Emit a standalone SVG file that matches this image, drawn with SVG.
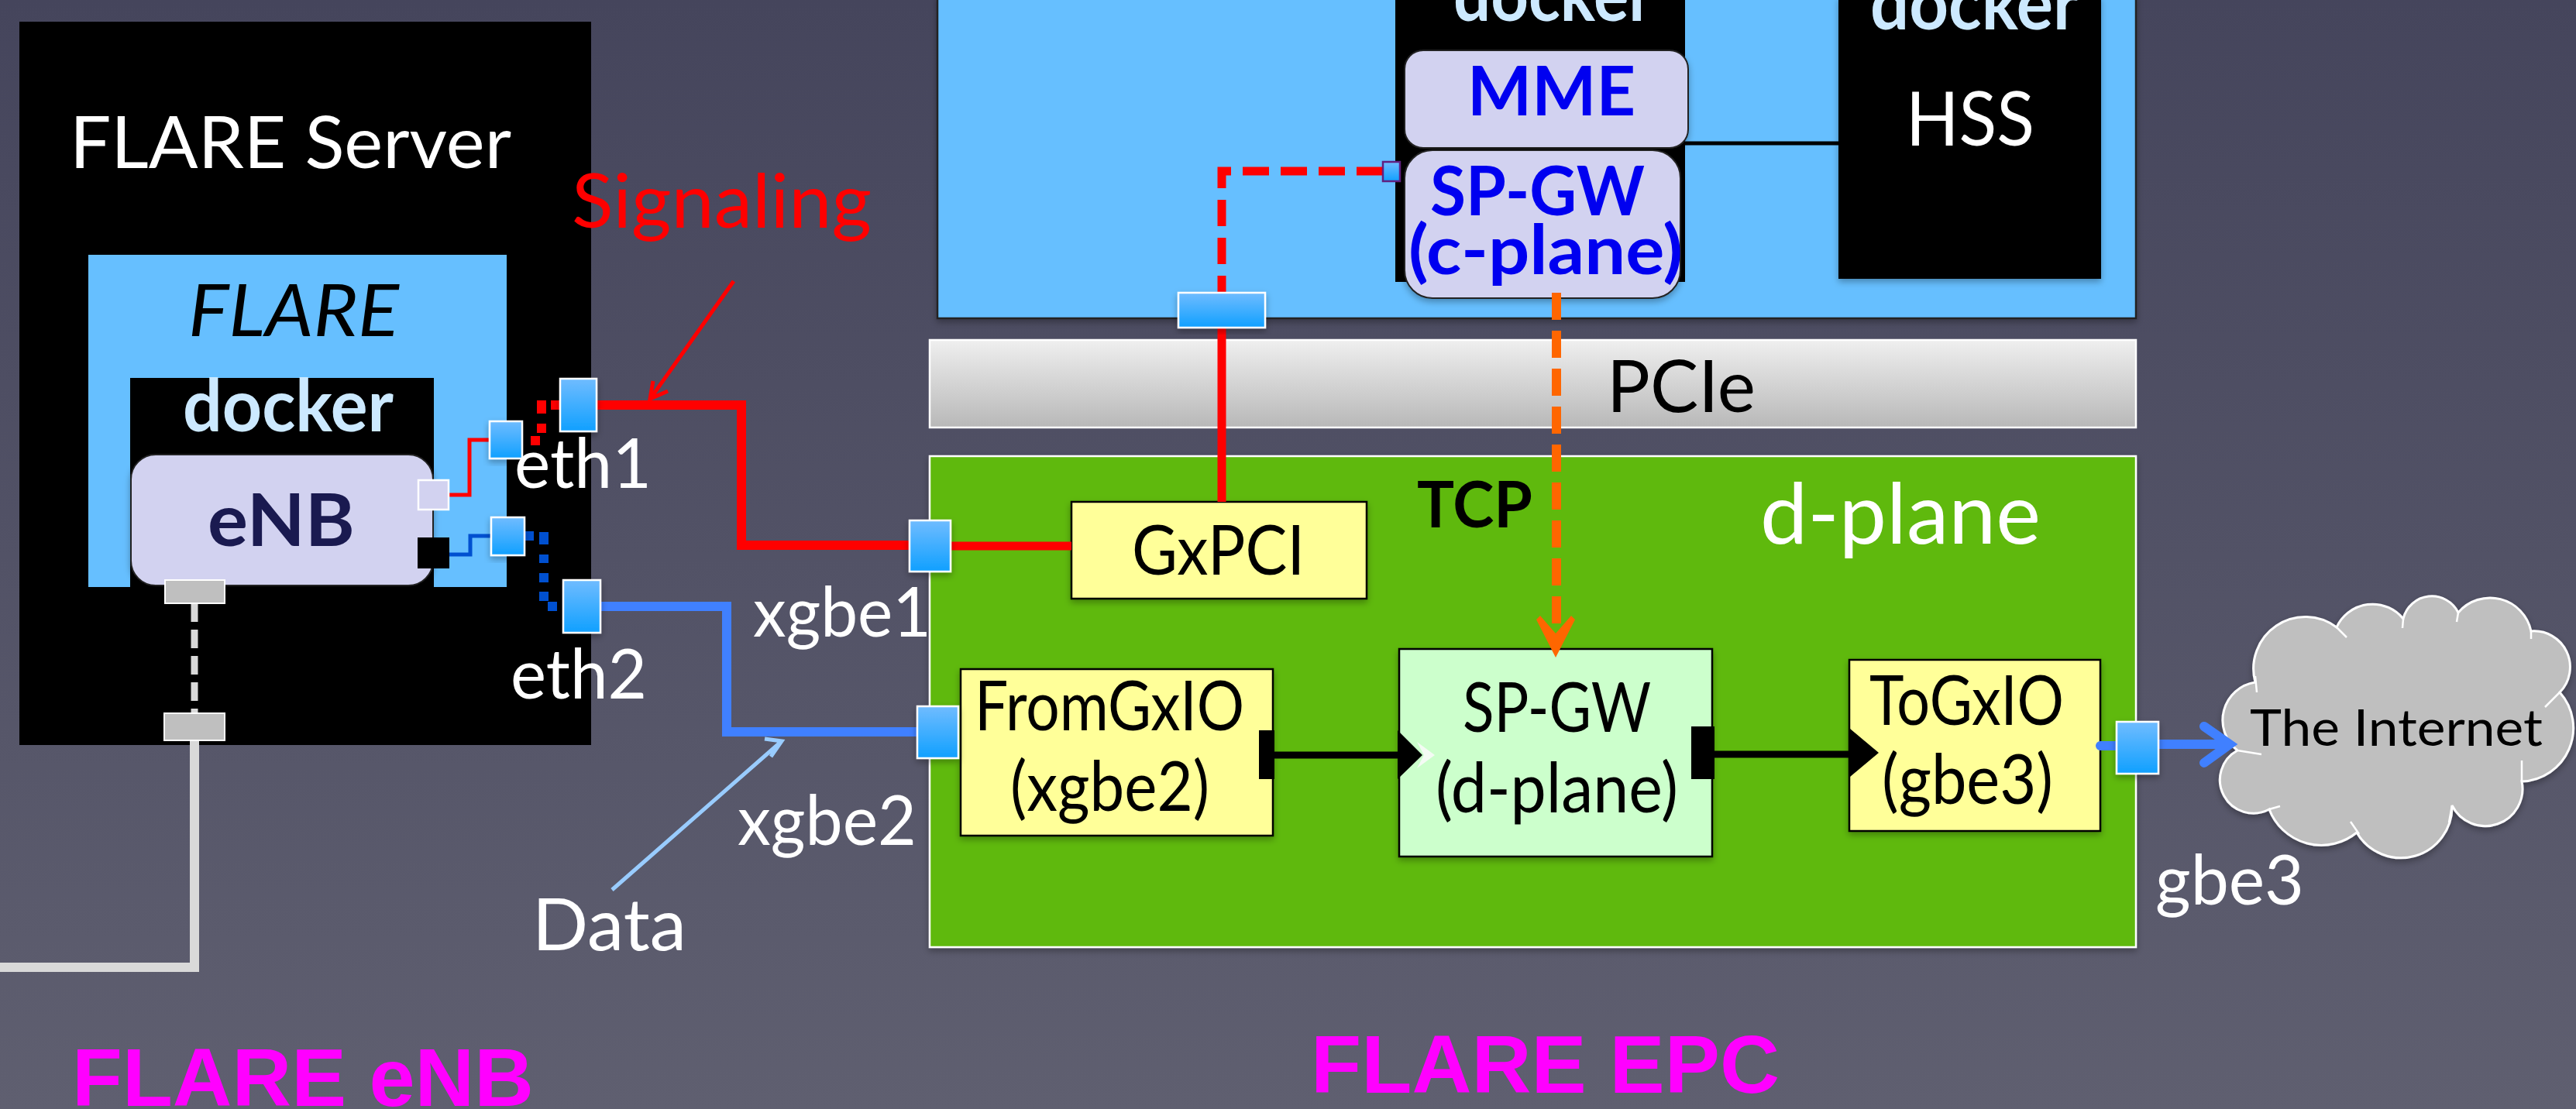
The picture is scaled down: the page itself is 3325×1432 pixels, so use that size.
<svg xmlns="http://www.w3.org/2000/svg" width="3325" height="1432" viewBox="0 0 3325 1432">
<defs>
<linearGradient id="bg" x1="0" y1="0" x2="0" y2="1"><stop offset="0" stop-color="#45455c"/><stop offset="1" stop-color="#5f5f70"/></linearGradient>
<linearGradient id="portg" x1="0" y1="0" x2="0" y2="1"><stop offset="0" stop-color="#70bcff"/><stop offset="1" stop-color="#10a0ff"/></linearGradient>
<linearGradient id="pcie" x1="0" y1="0" x2="0" y2="1"><stop offset="0" stop-color="#efefef"/><stop offset="1" stop-color="#b8b8b8"/></linearGradient>
<filter id="sh" x="-20%" y="-20%" width="140%" height="140%"><feDropShadow dx="0" dy="4" stdDeviation="4" flood-color="#000" flood-opacity="0.3"/></filter>
</defs>
<style>
text{font-family:Lato,"Liberation Sans",sans-serif;fill:#fff;font-size:92px}
.k{fill:#000}
.dk{font-weight:700;fill:#cce9ff;font-size:94px}
.bl{font-weight:700;fill:#0000f0;font-size:88px}
.mg{font-family:"Liberation Sans",Arial,sans-serif;font-weight:700;fill:#ff00ff;font-size:106px}
.port{fill:url(#portg);stroke:#fff;stroke-width:2.5;filter:url(#sh)}
.gp{fill:#bfbfbf;stroke:#fff;stroke-width:2}
.blk{fill:#000}
.lav{fill:#d2d2f0;stroke:#222;stroke-width:2;filter:url(#sh)}
.yel{fill:#ffff99;stroke:#000;stroke-width:2.5;filter:url(#sh)}
.ln{fill:none}
.m{font-size:90px}
</style>
<rect width="3325" height="1432" fill="url(#bg)"/>

<g id="flare-server">
<rect x="25" y="28" width="738" height="934" fill="#000"/>
<text x="90" y="217" textLength="570" lengthAdjust="spacingAndGlyphs" style="font-size:94px">FLARE Server</text>
</g>
<g id="flare-container">
<rect x="114" y="329" width="540" height="429" fill="#66bfff" filter="url(#sh)"/>
<text x="243" y="434" textLength="272" lengthAdjust="spacingAndGlyphs" font-style="italic" class="k" style="font-size:94px">FLARE</text>
</g>
<g id="enb-docker">
<rect x="168" y="488" width="392" height="270" fill="#000"/>
<text x="236" y="557" textLength="272" lengthAdjust="spacingAndGlyphs" class="dk">docker</text>
</g>
<g id="enb">
<rect x="169" y="587" width="390" height="169" rx="32" class="lav"/>
<text x="268" y="705" textLength="190" lengthAdjust="spacingAndGlyphs" style="font-weight:700;fill:#1a1a50;font-size:94px">eNB</text>
</g>

<g id="epc-top">
<rect x="1210" y="-5" width="1547" height="416" fill="#66bfff" stroke="#222" stroke-width="2.5" filter="url(#sh)"/>
</g>
<g id="mme-docker">
<rect x="1801" y="-5" width="374" height="369" fill="#000"/>
<text x="1876" y="27" textLength="258" lengthAdjust="spacingAndGlyphs" class="dk">docker</text>
</g>
<g id="hss">
<rect x="2373" y="-5" width="339" height="365" fill="#000" filter="url(#sh)"/>
<text x="2414" y="38" textLength="269" lengthAdjust="spacingAndGlyphs" class="dk">docker</text>
<text x="2460" y="188" textLength="166" lengthAdjust="spacingAndGlyphs" style="font-size:97px">HSS</text>
</g>
<g id="mme">
<rect x="1813" y="65" width="366" height="126" rx="24" class="lav"/>
<text x="1894" y="149" textLength="217" lengthAdjust="spacingAndGlyphs" class="bl">MME</text>
</g>
<g id="spgw-c">
<rect x="1813" y="194" width="356" height="191" rx="36" class="lav"/>
<text x="1846" y="278" textLength="277" lengthAdjust="spacingAndGlyphs" class="bl">SP-GW</text>
<text x="1818" y="354" textLength="354" lengthAdjust="spacingAndGlyphs" class="bl">(c-plane)</text>
</g>
<g id="pcie-bus">
<rect x="1200" y="439" width="1557" height="113" fill="url(#pcie)" stroke="#fff" stroke-width="2.5"/>
<text x="2074" y="532" textLength="192" lengthAdjust="spacingAndGlyphs" class="k" style="font-size:94px">PCIe</text>
</g>
<g id="d-plane">
<rect x="1200" y="589" width="1557" height="634" fill="#5eb90e" stroke="#fff" stroke-width="2.5" filter="url(#sh)"/>
<text x="1829" y="681" textLength="149" lengthAdjust="spacingAndGlyphs" style="font-weight:700;fill:#000;font-size:82px">TCP</text>
<text x="2272" y="702" textLength="362" lengthAdjust="spacingAndGlyphs" style="font-size:108px">d-plane</text>
</g>
<g id="gxpci">
<rect x="1383" y="648" width="381" height="125" class="yel"/>
<text x="1461" y="742" textLength="223" lengthAdjust="spacingAndGlyphs" class="k m">GxPCI</text>
</g>
<g id="fromgxio">
<rect x="1240" y="864" width="403" height="215" class="yel"/>
<text x="1258" y="943" textLength="348" lengthAdjust="spacingAndGlyphs" class="k m">FromGxIO</text>
<text x="1304" y="1047" textLength="257" lengthAdjust="spacingAndGlyphs" class="k m">(xgbe2)</text>
</g>
<g id="spgw-d">
<rect x="1806" y="838" width="404" height="268" fill="#ccffcc" stroke="#000" stroke-width="2.5" filter="url(#sh)"/>
<text x="1888" y="945" textLength="243" lengthAdjust="spacingAndGlyphs" class="k m">SP-GW</text>
<text x="1853" y="1049" textLength="313" lengthAdjust="spacingAndGlyphs" class="k m">(d-plane)</text>
</g>
<g id="togxio">
<rect x="2387" y="852" width="324" height="221" class="yel"/>
<text x="2413" y="936" textLength="251" lengthAdjust="spacingAndGlyphs" class="k m">ToGxIO</text>
<text x="2429" y="1038" textLength="221" lengthAdjust="spacingAndGlyphs" class="k m">(gbe3)</text>
</g>
<g id="internet">
<path d="M2911 881A49.5 49.5 0 0 0 2888 969A43 43 0 0 0 2929 1045A72 72 0 0 0 3042 1075A66 66 0 0 0 3165 1040A48 48 0 0 0 3255 1009A69 69 0 0 0 3304 894A46.5 46.5 0 0 0 3267 815A54 54 0 0 0 3173 791A38 38 0 0 0 3102 799A51 51 0 0 0 3016 810A67 67 0 0 0 2911 881Z" fill="#bfbfbf" stroke="#fff" stroke-width="3" filter="url(#sh)"/>
<path d="M2911 873L2913 894M3016 810L3029 823M3102 799L3101 811M3173 791L3171 803M3267 815V825M3304 894L3285 913M3255 1009V982M3165 1040L3161 1062M3034 1061L3045 1077M2929 1045L2943 1041M2888 969L2919 974" fill="none" stroke="#fff" stroke-width="2.5"/>
<text x="2904" y="963" textLength="378" lengthAdjust="spacingAndGlyphs" class="k" style="font-size:66px">The Internet</text>
</g>

<g id="connectors" class="ln">
<path d="M579 639H606V568H632" stroke="#ff0000" stroke-width="5" fill="none"/>
<path d="M580 716H607V692H634" stroke="#0050d0" stroke-width="5" fill="none"/>
<path d="M723 523H711M699 517V534M699 547V559M685 569H697" stroke="#ff0000" stroke-width="12" fill="none"/>
<path d="M677 692H689M702 687V703M702 716V727M702 740V752M702 764V776M707 783H719" stroke="#0050d0" stroke-width="12" fill="none"/>
<path d="M770 523H957V704H1174" stroke="#ff0000" stroke-width="12" fill="none"/>
<path d="M775 783H938V945H1185" stroke="#4080ff" stroke-width="12" fill="none"/>
<path d="M947 363L840 514M843 492L839 515L862 505" stroke="#ff0000" stroke-width="5" fill="none"/>
<path d="M790 1149L1009 957M987 954L1009 957L995 977" stroke="#99ccff" stroke-width="5" fill="none"/>
<path d="M1785 221H1577V378" stroke="#ff0000" stroke-width="11" fill="none" stroke-dasharray="34 15"/>
<path d="M1577 423V648M1227 705H1383" stroke="#ff0000" stroke-width="11" fill="none"/>
<path d="M2175 185H2373" stroke="#000" stroke-width="5" fill="none"/>
<path d="M2009 378V822" stroke="#ff6600" stroke-width="12" fill="none" stroke-dasharray="35 14"/>
<polygon points="2008,849 1983,800 1988,795 2008,818 2028,795 2033,800" fill="#ff6600"/>
<path d="M251 779V921" stroke="#d9d9d9" stroke-width="9" fill="none" stroke-dasharray="24 10"/>
<path d="M251 956V1249H0" stroke="#d9d9d9" stroke-width="12" fill="none"/>
<path d="M1645 975H1806M2213 974H2388" stroke="#000" stroke-width="9" fill="none"/>
<polygon points="1829,958 1852,975 1829,992 1838,975" fill="#f4fbf4"/>
<polygon points="1804,943 1836,975 1804,1006" fill="#000"/>
<polygon points="2388,941 2425,972 2388,1003" fill="#000"/>
<path d="M2711 963H2732M2786 961H2874M2845 938L2878 961L2845 985" stroke="#4080ff" stroke-width="12" fill="none" stroke-linecap="round" stroke-linejoin="miter"/>
</g>

<g id="ports">
<rect id="enb-port-top" x="540" y="620" width="39" height="38" fill="#d2d2f0" stroke="#fff" stroke-width="2.5"/>
<rect id="enb-port-bot" x="539" y="694" width="41" height="40" class="blk"/>
<rect id="enb-port-gray" x="213" y="749" width="77" height="30" class="gp"/>
<rect id="srv-port-gray" x="212" y="921" width="78" height="35" class="gp"/>
<rect id="c-eth1" x="632" y="544" width="42" height="48" class="port"/>
<rect id="c-eth2" x="634" y="668" width="43" height="49" class="port"/>
<rect id="eth1" x="723" y="489" width="47" height="68" class="port"/>
<rect id="eth2" x="727" y="749" width="48" height="68" class="port"/>
<rect id="xgbe1" x="1174" y="672" width="53" height="66" class="port"/>
<rect id="xgbe2" x="1184" y="912" width="53" height="67" class="port"/>
<rect id="spgw-port" x="1785" y="209" width="22" height="25" fill="url(#portg)" stroke="#602080" stroke-width="2.5"/>
<rect id="pcie-port" x="1521" y="378" width="112" height="45" class="port"/>
<rect id="fromgxio-out" x="1625" y="943" width="20" height="63" class="blk"/>
<rect id="spgw-out" x="2183" y="938" width="30" height="68" class="blk"/>
<rect id="gbe3" x="2732" y="932" width="54" height="67" class="port"/>
</g>

<g id="labels">
<text x="738" y="294" textLength="387" lengthAdjust="spacingAndGlyphs" style="fill:#ff0000;font-size:96px">Signaling</text>
<text x="664" y="630" textLength="177" lengthAdjust="spacingAndGlyphs" class="m">eth1</text>
<text x="659" y="902" textLength="176" lengthAdjust="spacingAndGlyphs" class="m">eth2</text>
<text x="972" y="822" textLength="230" lengthAdjust="spacingAndGlyphs" class="m">xgbe1</text>
<text x="952" y="1091" textLength="231" lengthAdjust="spacingAndGlyphs" class="m">xgbe2</text>
<text x="687" y="1227" textLength="199" lengthAdjust="spacingAndGlyphs" style="font-size:94px">Data</text>
<text x="2782" y="1168" textLength="192" lengthAdjust="spacingAndGlyphs" class="m">gbe3</text>
<text x="93" y="1428" textLength="596" lengthAdjust="spacingAndGlyphs" class="mg">FLARE eNB</text>
<text x="1692" y="1411" textLength="605" lengthAdjust="spacingAndGlyphs" class="mg">FLARE EPC</text>
</g>
</svg>
